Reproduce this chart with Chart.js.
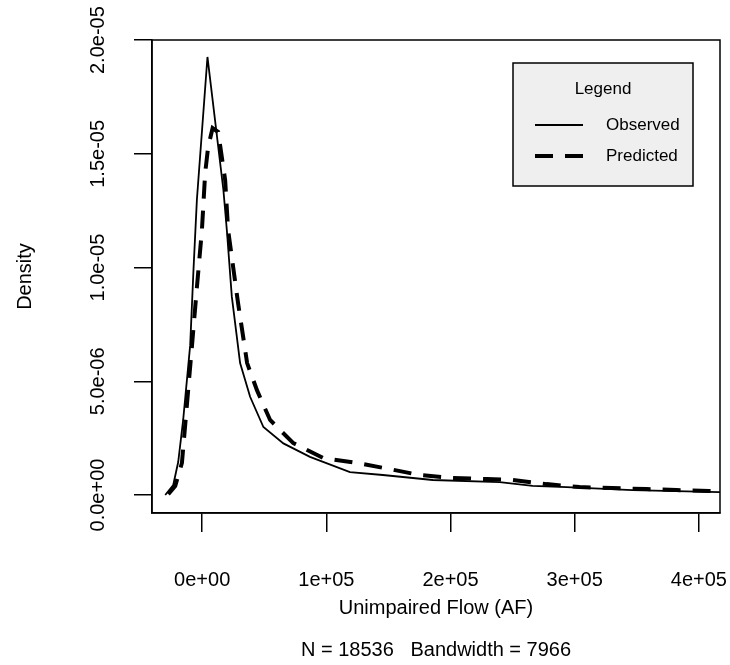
<!DOCTYPE html>
<html lang="en">
  <head>
    <meta charset="UTF-8" />
    <title>Unimpaired Flow Density</title>
    <script src="https://cdn.jsdelivr.net/npm/chart.js"></script>
    <style>
      html, body { margin: 0; padding: 0; background: #fff; }
    </style>
  </head>
  <body>
    <canvas id="myChart" width="730" height="665"></canvas>

    <script>
      // density curves (x in AF, y = density)
      const obsX = [-29750, -23300, -19300, -15300, -9650, -7000, -4260, 4260, 17100, 19860, 23880, 30550, 38600, 49300, 65400, 86800, 119000, 145500, 185700, 239600, 266100, 293400, 346500, 416500, 440000];
      const obsY = [0, 4.4e-7, 1.45e-6, 3.3e-6, 6.59e-6, 9.89e-6, 1.297e-5, 1.926e-5, 1.341e-5, 1.165e-5, 8.72e-6, 5.8e-6, 4.32e-6, 2.99e-6, 2.27e-6, 1.68e-6, 1.01e-6, 8.8e-7, 6.6e-7, 5.7e-7, 4.0e-7, 3.5e-7, 2.2e-7, 1.3e-7, 1.1e-7];

      const predX = [-27300, -21700, -16300, -12300, -8300, -4300, -200, 2400, 4800, 8400, 12900, 18500, 20900, 28900, 36200, 44200, 54700, 73200, 97300, 124600, 151100, 175300, 201800, 229100, 250000, 277400, 303900, 330400, 357800, 381900, 408400, 440000];
      const predY = [4e-8, 4.0e-7, 1.41e-6, 3.96e-6, 6.51e-6, 9.1e-6, 1.165e-5, 1.415e-5, 1.53e-5, 1.613e-5, 1.596e-5, 1.385e-5, 1.165e-5, 8.44e-6, 5.8e-6, 4.6e-6, 3.3e-6, 2.29e-6, 1.63e-6, 1.41e-6, 1.14e-6, 8.8e-7, 7.5e-7, 7.0e-7, 6.6e-7, 4.8e-7, 3.5e-7, 3.1e-7, 2.6e-7, 2.2e-7, 1.8e-7, 1.4e-7];

      const xTicks = [0, 100000, 200000, 300000, 400000];
      const yTicks = [0, 5e-6, 1e-5, 1.5e-5, 2e-5];

      const seriesNames = ["Observed", "Predicted"];
      const legendTitle = "Legend";
      const xLabel = "Unimpaired Flow (AF)";
      const subLabel = "N = 18536   Bandwidth = 7966";
      const yLabel = "Density";

      const FONT = '"Liberation Sans", Arial, Helvetica, sans-serif';
      Chart.defaults.font.family = FONT;
      Chart.defaults.color = "#000";

      // R style labels like 1e+05 / 5.0e-06
      function rSci(v, d) {
        if (Math.abs(v) < 1e-15) v = 0;
        const parts = v.toExponential(d).split("e");
        const sign = parts[1][0] === "-" ? "-" : "+";
        let digits = parts[1].replace(/[+-]/, "");
        if (digits.length < 2) digits = "0" + digits;
        return parts[0] + "e" + sign + digits;
      }

      function toPoints(xs, ys) {
        return xs.map((x, i) => ({ x: x, y: ys[i] }));
      }

      const plotBox = {
        id: "plotBox",
        afterDatasetsDraw(chart) {
          const { ctx, chartArea: a } = chart;
          ctx.save();
          ctx.strokeStyle = "#000";
          ctx.lineWidth = 1.5;
          ctx.strokeRect(a.left, a.top, a.right - a.left, a.bottom - a.top);
          ctx.restore();
        },
      };

      const boxLegend = {
        id: "boxLegend",
        afterDraw(chart) {
          const ctx = chart.ctx;
          const x0 = 513, y0 = 63, w = 180, h = 123;
          ctx.save();
          ctx.fillStyle = "#efefef";
          ctx.fillRect(x0, y0, w, h);
          ctx.strokeStyle = "#000";
          ctx.lineWidth = 1.5;
          ctx.strokeRect(x0, y0, w, h);
          ctx.fillStyle = "#000";
          ctx.font = "17px " + FONT;
          ctx.textBaseline = "middle";
          ctx.textAlign = "center";
          ctx.fillText(legendTitle, x0 + w / 2, 89);
          chart.data.datasets.forEach((ds, i) => {
            const y = 125 + i * 31;
            ctx.beginPath();
            ctx.lineWidth = ds.borderWidth;
            ctx.setLineDash(ds.borderDash || []);
            ctx.moveTo(535, y);
            ctx.lineTo(583, y);
            ctx.stroke();
            ctx.setLineDash([]);
            ctx.textAlign = "left";
            ctx.fillText(ds.label, 606, y);
          });
          ctx.restore();
        },
      };

      const ctx = document.getElementById("myChart").getContext("2d");
      const myChart = new Chart(ctx, {
        type: "line",
        data: {
          datasets: [
            {
              label: seriesNames[0],
              data: toPoints(obsX, obsY),
              borderColor: "#000",
              borderWidth: 1.8,
              pointRadius: 0,
              tension: 0,
            },
            {
              label: seriesNames[1],
              data: toPoints(predX, predY),
              borderColor: "#000",
              borderWidth: 4,
              borderDash: [18, 12],
              pointRadius: 0,
              tension: 0,
            },
          ],
        },
        options: {
          responsive: false,
          animation: false,
          devicePixelRatio: 1,
          layout: { padding: { left: 0, right: 10, top: 40, bottom: 0 } },
          plugins: {
            legend: { display: false },
            title: { display: false },
            tooltip: { enabled: false },
          },
          scales: {
            x: {
              type: "linear",
              min: -40400,
              max: 417000,
              afterBuildTicks: (s) => { s.ticks = xTicks.map((v) => ({ value: v })); },
              afterFit: (s) => { s.height = 152; s.paddingLeft = 0; s.paddingRight = 0; },
              grid: { drawOnChartArea: false, drawTicks: true, tickLength: 19, color: "#000", lineWidth: 1.5 },
              border: { display: true, color: "#000", width: 1.5 },
              ticks: {
                autoSkip: false,
                maxRotation: 0,
                padding: 36,
                font: { size: 20 },
                callback: (v) => rSci(v, 0),
              },
              title: {
                display: true,
                text: [xLabel, subLabel],
                font: { size: 20, lineHeight: "42px" },
                padding: { top: 0, bottom: -6 },
              },
            },
            y: {
              type: "linear",
              min: -7.9e-7,
              max: 2.0005e-5,
              afterBuildTicks: (s) => { s.ticks = yTicks.map((v) => ({ value: v })); },
              afterFit: (s) => { s.width = 152; s.paddingTop = 0; s.paddingBottom = 0; },
              grid: { drawOnChartArea: false, drawTicks: true, tickLength: 18, color: "#000", lineWidth: 1.5 },
              border: { display: true, color: "#000", width: 1.5 },
              ticks: {
                autoSkip: false,
                minRotation: 90,
                maxRotation: 90,
                crossAlign: "center",
                padding: -1,
                font: { size: 20 },
                callback: (v) => rSci(v, 1),
              },
              title: {
                display: true,
                text: yLabel,
                font: { size: 20 },
                padding: { top: 13, bottom: 0 },
              },
            },
          },
        },
        plugins: [plotBox, boxLegend],
      });
    </script>
  </body>
</html>
